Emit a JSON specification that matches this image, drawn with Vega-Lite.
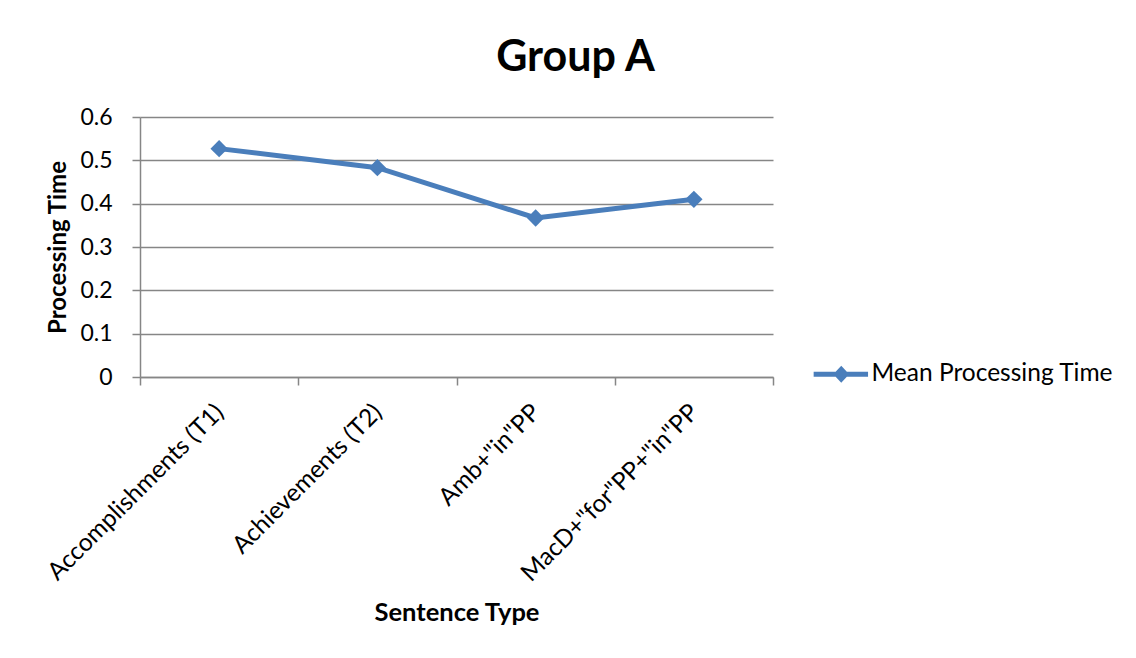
{
  "$schema": "https://vega.github.io/schema/vega-lite/v6.json",
  "width": 633,
  "height": 260,
  "autosize": {"type": "none"},
  "padding": {"left": 140, "top": 117, "right": 363, "bottom": 281},
  "background": "white",
  "title": {
    "text": "Group A",
    "font": "Lato",
    "fontSize": 43,
    "fontWeight": "bold",
    "color": "#000000",
    "anchor": "middle",
    "frame": "group",
    "dx": 119,
    "offset": 26
  },
  "data": {
    "values": [
      {"type": "Accomplishments (T1)", "time": 0.527},
      {"type": "Achievements (T2)", "time": 0.483},
      {"type": "Amb+\"in\"PP", "time": 0.367},
      {"type": "MacD+\"for\"PP+\"in\"PP", "time": 0.41}
    ]
  },
  "config": {
    "view": {"stroke": null},
    "font": "Lato"
  },
  "mark": {
    "type": "line",
    "strokeWidth": 5,
    "point": {"shape": "diamond", "size": 300, "filled": true, "opacity": 1}
  },
  "encoding": {
    "x": {
      "field": "type",
      "type": "nominal",
      "sort": null,
      "scale": {"type": "band", "paddingInner": 0, "paddingOuter": 0},
      "axis": {
        "title": "Sentence Type",
        "titleFont": "Lato",
        "titleFontSize": 25.5,
        "titleFontWeight": "bold",
        "titleColor": "#000000",
        "titlePadding": 23,
        "labelAngle": -45,
        "labelAlign": "right",
        "labelBaseline": "top",
        "labelFont": "Lato",
        "labelFontSize": 24.5,
        "labelColor": "#000000",
        "labelPadding": 15,
        "labelOffset": -8,
        "labelLimit": 0,
        "tickBand": "extent",
        "tickSize": 8,
        "tickColor": "#868686",
        "tickWidth": 1.5,
        "domainColor": "#868686",
        "domainWidth": 1.5,
        "grid": false
      }
    },
    "y": {
      "field": "time",
      "type": "quantitative",
      "scale": {"domain": [0, 0.6], "nice": false, "zero": true},
      "axis": {
        "title": "Processing Time",
        "titleFont": "Lato",
        "titleFontSize": 24,
        "titleFontWeight": "bold",
        "titleColor": "#000000",
        "titlePadding": 9,
        "values": [0, 0.1, 0.2, 0.3, 0.4, 0.5, 0.6],
        "format": "~g",
        "labelFont": "Lato",
        "labelFontSize": 23,
        "labelColor": "#000000",
        "labelPadding": 20,
        "tickSize": 8,
        "tickColor": "#868686",
        "tickWidth": 1.5,
        "domainColor": "#868686",
        "domainWidth": 1.5,
        "grid": true,
        "gridColor": "#868686",
        "gridWidth": 1.5
      }
    },
    "color": {
      "datum": "Mean Processing Time",
      "type": "nominal",
      "scale": {"range": ["#4a7ebb"]},
      "legend": {
        "title": null,
        "orient": "none",
        "legendX": 689,
        "legendY": 245,
        "padding": 0,
        "symbolType": "M-3.45,-0.3L-0.7,-0.3L0,-1.05L0.7,-0.3L3.35,-0.3L3.35,0.3L0.7,0.3L0,1.05L-0.7,0.3L-3.45,0.3Z",
        "symbolSize": 256,
        "symbolFillColor": "#4a7ebb",
        "symbolStrokeWidth": 0,
        "labelFont": "Lato",
        "labelFontSize": 24.5,
        "labelColor": "#000000",
        "labelOffset": 18,
        "labelLimit": 400,
        "encode": {
          "symbols": {
            "update": {
              "fill": {"value": "#4a7ebb"},
              "stroke": {"value": "transparent"},
              "strokeWidth": {"value": 0},
              "opacity": {"value": 1}
            }
          }
        }
      }
    }
  }
}
